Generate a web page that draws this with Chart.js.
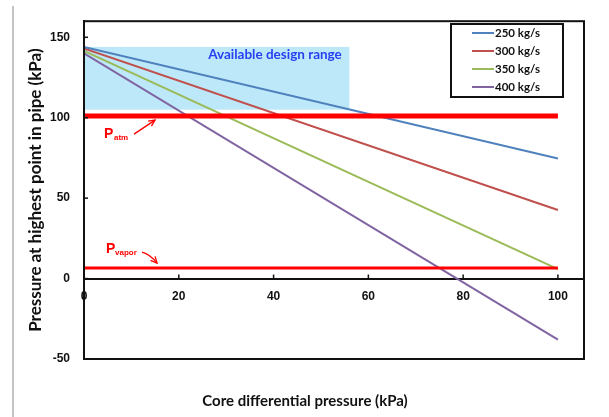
<!DOCTYPE html>
<html lang="en">
<head>
    <meta charset="UTF-8">
    <title>Pressure at highest point</title>
    <script src="https://cdn.jsdelivr.net/npm/chart.js@4.4.0/dist/chart.umd.min.js"></script>
    <style>
        html, body { margin: 0; padding: 0; background: #fff; }
        #wrap { width: 609px; height: 417px; }
    </style>
</head>
<body>
    <div id="wrap"><canvas id="myChart" width="609" height="417"></canvas></div>
    <script>
        // axis ticks
        const xTicks = [0, 20, 40, 60, 80, 100];
        const yTicks = [-50, 0, 50, 100, 150];

        // series (core differential pressure -> pressure at highest point)
        const coreDp = [0, 100];
        const p250 = [144, 74.6];
        const p300 = [143, 42.6];
        const p350 = [141.5, 5.9];
        const p400 = [140, -37.9];
        const flowLabels = ['250 kg/s', '300 kg/s', '350 kg/s', '400 kg/s'];
        const flowColors = ['#4F81BD', '#C0504D', '#9BBB59', '#8064A2'];

        // reference pressures
        const pAtm = 101;
        const pVapor = 6.5;
        const refX = [0, 100];

        // shaded design range
        const designX = [0, 56];
        const designY = [105, 144];

        function pts(xs, ys) {
            return xs.map((x, i) => ({ x: x, y: ys[i] }));
        }

        const series = [p250, p300, p350, p400];
        const datasets = [];
        series.forEach((s, i) => {
            datasets.push({
                label: flowLabels[i],
                data: pts(coreDp, s),
                borderColor: flowColors[i],
                borderWidth: 2,
                pointRadius: 0,
                order: 2 + i
            });
        });
        datasets.push({ label: 'Patm', data: pts(refX, [pAtm, pAtm]), borderColor: '#FF0000', borderWidth: 5, pointRadius: 0, order: 0 });
        datasets.push({ label: 'Pvapor', data: pts(refX, [pVapor, pVapor]), borderColor: '#FF0000', borderWidth: 3, pointRadius: 0, order: 1 });

        function arrowHead(ctx, x1, y1, x2, y2) {
            const a = Math.atan2(y2 - y1, x2 - x1);
            ctx.beginPath();
            ctx.moveTo(x2 - 7 * Math.cos(a - 0.45), y2 - 7 * Math.sin(a - 0.45));
            ctx.lineTo(x2, y2);
            ctx.lineTo(x2 - 7 * Math.cos(a + 0.45), y2 - 7 * Math.sin(a + 0.45));
            ctx.stroke();
        }

        const decor = {
            id: 'decor',
            beforeDraw(chart) {
                const ctx = chart.ctx;
                ctx.save();
                ctx.fillStyle = '#fff';
                ctx.fillRect(0, 0, chart.width, chart.height);
                ctx.strokeStyle = '#b0b0b0';
                ctx.lineWidth = 1.5;
                ctx.beginPath();
                ctx.moveTo(13, 6);
                ctx.lineTo(13, chart.height);
                ctx.stroke();
                ctx.restore();
            },
            beforeDatasetsDraw(chart) {
                const ctx = chart.ctx, xs = chart.scales.x, ys = chart.scales.y;
                const x0 = xs.getPixelForValue(designX[0]), x1 = xs.getPixelForValue(designX[1]);
                const y0 = ys.getPixelForValue(designY[1]), y1 = ys.getPixelForValue(designY[0]);
                ctx.save();
                ctx.fillStyle = '#BDE8F9';
                ctx.fillRect(x0, y0, x1 - x0, y1 - y0);
                ctx.restore();
            },
            afterDatasetsDraw(chart) {
                const ctx = chart.ctx, xs = chart.scales.x, ys = chart.scales.y;
                const a = chart.chartArea;
                ctx.save();
                // design range label
                ctx.fillStyle = '#2940F2';
                ctx.font = 'bold 13.5px Lato';
                ctx.textAlign = 'center';
                ctx.textBaseline = 'middle';
                ctx.fillText('Available design range', 275, 55);

                // plot frame
                ctx.strokeStyle = '#111';
                ctx.lineWidth = 2;
                ctx.strokeRect(a.left, a.top, a.right - a.left, a.bottom - a.top);

                // inner tick marks
                ctx.lineWidth = 1.5;
                yTicks.forEach(v => {
                    const y = ys.getPixelForValue(v);
                    ctx.beginPath(); ctx.moveTo(a.left, y); ctx.lineTo(a.left + 4, y); ctx.stroke();
                });
                const y0 = ys.getPixelForValue(0);
                xTicks.forEach(v => {
                    const x = xs.getPixelForValue(v);
                    ctx.beginPath(); ctx.moveTo(x, y0); ctx.lineTo(x, y0 - 4); ctx.stroke();
                });

                // P_atm and P_vapor labels with arrows
                ctx.fillStyle = '#FF0000';
                ctx.strokeStyle = '#FF0000';
                ctx.textAlign = 'left';
                ctx.textBaseline = 'alphabetic';
                const ya = ys.getPixelForValue(pAtm);
                ctx.font = 'bold 14px "Liberation Sans"';
                ctx.fillText('P', 104, ya + 22);
                ctx.font = 'bold 8px "Liberation Sans"';
                ctx.fillText('atm', 114, ya + 24);
                ctx.lineWidth = 1.3;
                ctx.beginPath(); ctx.moveTo(134, ya + 18); ctx.lineTo(155, ya + 4); ctx.stroke();
                arrowHead(ctx, 134, ya + 18, 155, ya + 4);

                const yv = ys.getPixelForValue(pVapor);
                ctx.font = 'bold 14px "Liberation Sans"';
                ctx.fillText('P', 106, yv - 15);
                ctx.font = 'bold 8px "Liberation Sans"';
                ctx.fillText('vapor', 115, yv - 13);
                ctx.beginPath();
                ctx.moveTo(142, yv - 16);
                ctx.quadraticCurveTo(150, yv - 14, 157, yv - 5);
                ctx.stroke();
                arrowHead(ctx, 150, yv - 13, 157, yv - 5);

                // legend
                ctx.fillStyle = '#fff';
                ctx.fillRect(451, 24, 112, 73);
                ctx.strokeStyle = '#111';
                ctx.lineWidth = 2;
                ctx.strokeRect(451, 24, 112, 73);
                ctx.font = 'bold 11.5px Lato';
                ctx.textBaseline = 'middle';
                flowLabels.forEach((lab, i) => {
                    const y = 33 + i * 18;
                    ctx.strokeStyle = flowColors[i];
                    ctx.lineWidth = 2;
                    ctx.beginPath(); ctx.moveTo(472, y); ctx.lineTo(494, y); ctx.stroke();
                    ctx.fillStyle = '#111';
                    ctx.fillText(lab, 495, y);
                });

                // x axis title
                ctx.font = 'bold 15px Lato';
                ctx.fillStyle = '#111';
                ctx.textAlign = 'center';
                ctx.fillText('Core differential pressure (kPa)', 305, 401);
                ctx.restore();
            }
        };

        const config = {
            type: 'line',
            data: { datasets: datasets },
            plugins: [decor],
            options: {
                responsive: false,
                animation: false,
                layout: { padding: { top: 16, right: 25, bottom: 58, left: 0 } },
                plugins: { legend: { display: false }, tooltip: { enabled: false } },
                scales: {
                    x: {
                        type: 'linear',
                        position: { y: 0 },
                        min: 0,
                        max: 105.5,
                        afterBuildTicks: s => { s.ticks = xTicks.map(v => ({ value: v })); },
                        grid: { drawOnChartArea: false, drawTicks: false },
                        border: { display: true, color: '#111', width: 2 },
                        ticks: { padding: 11, color: '#111', font: { family: '"Liberation Sans"', size: 12, weight: 'bold' } }
                    },
                    y: {
                        type: 'linear',
                        min: -50,
                        max: 160,
                        afterBuildTicks: s => { s.ticks = yTicks.map(v => ({ value: v })); },
                        afterFit: s => { s.width = 84; },
                        grid: { drawOnChartArea: false, drawTicks: false },
                        border: { display: true, color: '#111', width: 2 },
                        ticks: { padding: 14, color: '#111', font: { family: '"Liberation Sans"', size: 12, weight: 'bold' } },
                        title: {
                            display: true,
                            text: 'Pressure at highest point in pipe (kPa)',
                            color: '#111',
                            padding: { top: 25, bottom: 0 },
                            font: { family: 'Lato', size: 17, weight: 'bold' }
                        }
                    }
                }
            }
        };

        window.myChart = new Chart(document.getElementById('myChart').getContext('2d'), config);
    </script>
</body>
</html>
